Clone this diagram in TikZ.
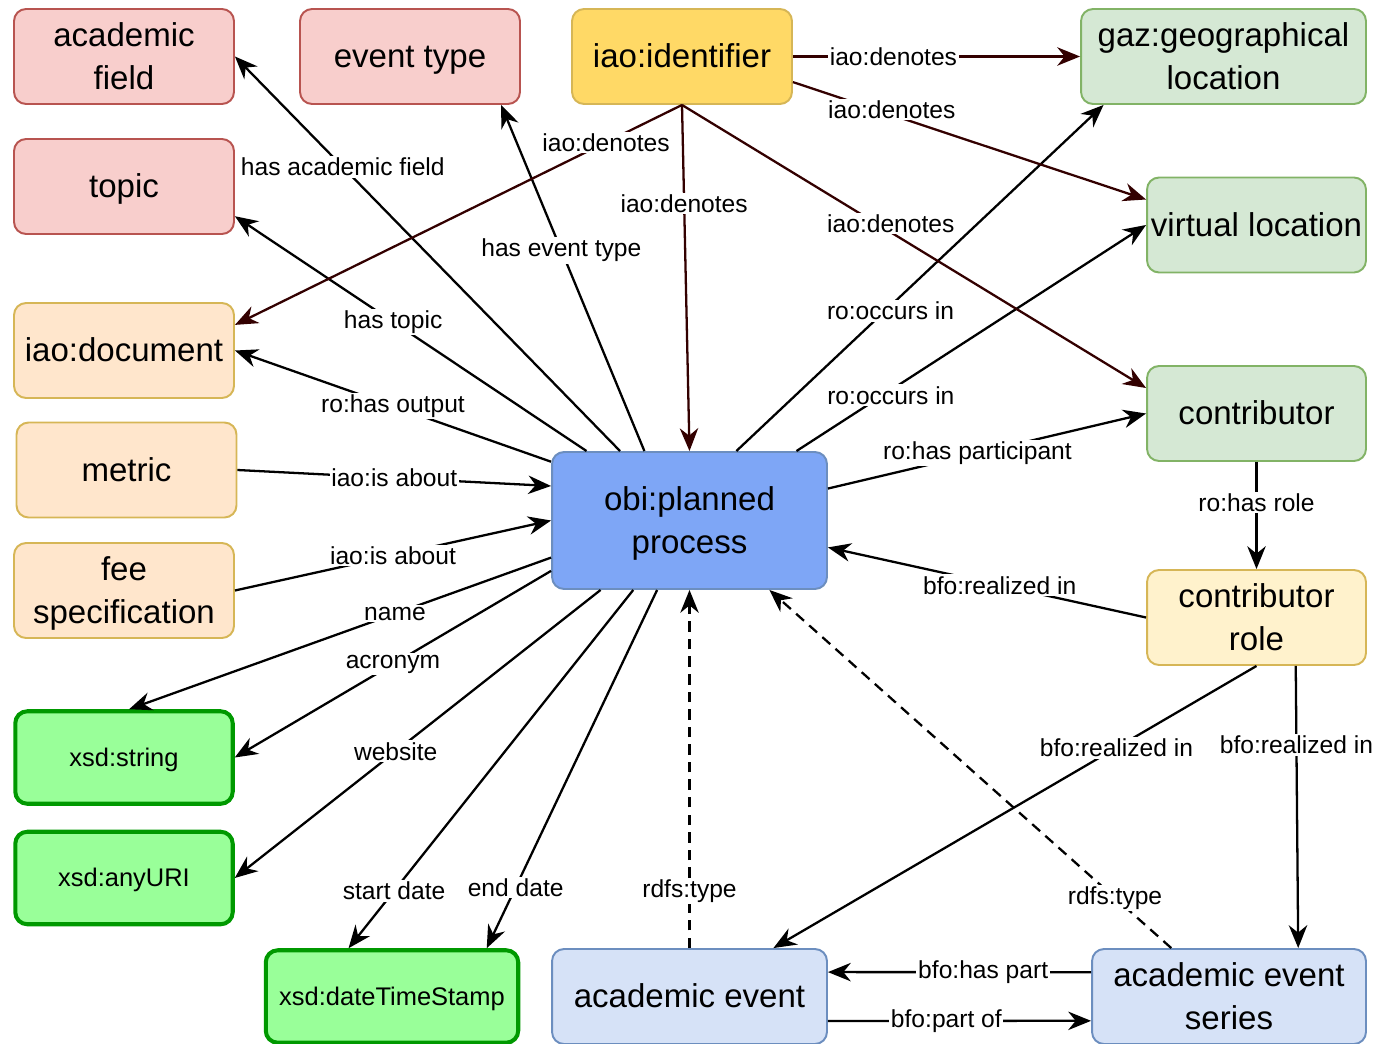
\documentclass[tikz,border=0pt]{standalone}
\usepackage{fontspec}
\setmainfont{Liberation Sans}
\usetikzlibrary{arrows.meta}

\definecolor{pinkfill}{HTML}{F8CECC}
\definecolor{pinkline}{HTML}{B85450}
\definecolor{identfill}{HTML}{FFD966}
\definecolor{goldline}{HTML}{D6B656}
\definecolor{orangefill}{HTML}{FFE6CC}
\definecolor{greenfill}{HTML}{D5E8D4}
\definecolor{greenline}{HTML}{82B366}
\definecolor{planfill}{HTML}{7EA6F6}
\definecolor{blueline}{HTML}{6C8EBF}
\definecolor{rolefill}{HTML}{FFF2CC}
\definecolor{xsdfill}{HTML}{99FF99}
\definecolor{xsdline}{HTML}{009900}
\definecolor{eventfill}{HTML}{D6E2F7}
\definecolor{denotecol}{HTML}{330000}

\begin{document}
\begin{tikzpicture}[x=0.02cm,y=-0.02cm,
  box/.style={draw,rounded corners=0.24cm,line width=1.1pt,minimum width=4.4cm,minimum height=1.9cm,
    align=center,inner sep=1pt,font=\fontsize{18.8}{24.5}\selectfont,text height=13pt,text depth=0pt},
  twoline/.style={text height=38pt},
  pinkbox/.style={box,fill=pinkfill,draw=pinkline},
  identbox/.style={box,fill=identfill,draw=goldline},
  orangebox/.style={box,fill=orangefill,draw=goldline},
  greenbox/.style={box,fill=greenfill,draw=greenline},
  planbox/.style={box,fill=planfill,draw=blueline,minimum width=5.5cm,minimum height=2.74cm},
  rolebox/.style={box,fill=rolefill,draw=goldline,minimum width=4.38cm},
  xsdbox/.style={box,fill=xsdfill,draw=xsdline,line width=2.3pt,minimum width=4.35cm,minimum height=1.85cm,
    font=\fontsize{14.5}{17}\selectfont,text height=10pt},
  eventbox/.style={box,fill=eventfill,draw=blueline,minimum width=5.5cm},
  arr/.style={-{Stealth[length=13pt,width=10.5pt]},line width=1.3pt},
  denotes/.style={arr,draw=denotecol},
  typeof/.style={arr,dash pattern=on 6pt off 4pt},
  lbl/.style={fill=white,inner sep=1pt,font=\fontsize{14}{16}\selectfont}]
\useasboundingbox (0,0) rectangle (1379,1044);

% Nodes
\node[pinkbox,twoline] (acfield) at (124,56.5) {academic\\field};
\node[pinkbox] (evtype) at (410,56.5) {event type};
\node[identbox] (ident) at (682,56.5) {iao:identifier};
\node[greenbox,twoline,minimum width=5.7cm] (geo) at (1223.5,56.5) {gaz:geographical\\location};
\node[pinkbox] (topic) at (124,186.5) {topic};
\node[greenbox,minimum width=4.38cm] (virtual) at (1256.5,225) {virtual location};
\node[orangebox] (document) at (124,350.5) {iao:document};
\node[orangebox] (metric) at (126.5,470) {metric};
\node[orangebox,twoline] (fee) at (124,590.5) {fee\\specification};
\node[greenbox,minimum width=4.38cm] (contrib) at (1256.5,413.5) {contributor};
\node[planbox,twoline] (planned) at (689.5,520.5) {obi:planned\\process};
\node[rolebox,twoline] (crole) at (1256.5,617.5) {contributor\\role};
\node[xsdbox] (xstring) at (124,757.5) {xsd:string};
\node[xsdbox] (xuri) at (124,878) {xsd:anyURI};
\node[xsdbox,minimum width=5.05cm] (xdate) at (392,996.5) {xsd:dateTimeStamp};
\node[eventbox] (acevent) at (689.5,996.5) {academic event};
\node[eventbox,twoline,minimum width=5.48cm] (series) at (1229,996.5) {academic event\\series};

% Edges of the planned process
\draw[arr] (planned.135) -- (acfield.east) node[lbl,pos=0.72] {has academic field};
\draw[arr] (planned.146) -- (topic.345) node[lbl,pos=0.55] {has topic};
\draw[arr] (planned.123) -- (evtype.332) node[lbl,pos=0.58] {has event type};
\draw[arr] (planned.157) -- (document.east) node[lbl,pos=0.5] {ro:has output};
\draw[arr] (metric.east) -- (planned.166) node[lbl,pos=0.5] {iao:is about};
\draw[arr] (fee.east) -- (planned.west) node[lbl,pos=0.5] {iao:is about};
\draw[arr] (planned.195) -- (xstring.84) node[lbl,pos=0.37] {name};
\draw[arr] (planned.200) -- (xstring.east) node[lbl,pos=0.5] {acronym};
\draw[arr] (planned.218) -- (xuri.east) node[lbl,pos=0.56] {website};
\draw[arr] (planned.231) -- (xdate.132) node[lbl,pos=0.84] {start date};
\draw[arr] (planned.245) -- (xdate.27) node[lbl,pos=0.83] {end date};
\draw[arr] (planned.56) -- (geo.202) node[lbl,pos=0.42,yshift=-3pt] {ro:occurs in};
\draw[arr] (planned.33) -- (virtual.west) node[lbl,pos=0.27,yshift=-3pt] {ro:occurs in};
\draw[arr] (planned.13) -- (contrib.west) node[lbl,pos=0.47] {ro:has participant};

% iao:denotes
\draw[denotes] (ident.east) -- (geo.west) node[lbl,pos=0.35] {iao:denotes};
\draw[denotes] (ident.347) -- (virtual.167) node[lbl,pos=0.28,yshift=3pt] {iao:denotes};
\draw[denotes] (ident.south) -- (contrib.167) node[lbl,pos=0.45,yshift=5pt] {iao:denotes};
\draw[denotes] (ident.south) -- (planned.north) node[lbl,pos=0.285] {iao:denotes};
\draw[denotes] (ident.south) -- (document.13) node[lbl,pos=0.17] {iao:denotes};

% Roles and events
\draw[arr] (contrib.south) -- (crole.north) node[lbl,pos=0.38] {ro:has role};
\draw[arr] (crole.west) -- (planned.349) node[lbl,pos=0.46] {bfo:realized in};
\draw[arr] (crole.south) -- (acevent.30) node[lbl,pos=0.29] {bfo:realized in};
\draw[arr] (crole.309) -- (series.35) node[lbl,pos=0.28] {bfo:realized in};
\draw[typeof] (acevent.north) -- (planned.south) node[lbl,pos=0.16] {rdfs:type};
\draw[typeof] (series.140) -- (planned.319) node[lbl,pos=0.14] {rdfs:type};
\draw[arr] (series.170) -- (acevent.10) node[lbl,pos=0.41] {bfo:has part};
\draw[arr] (acevent.350) -- (series.190) node[lbl,pos=0.45] {bfo:part of};
\end{tikzpicture}
\end{document}
